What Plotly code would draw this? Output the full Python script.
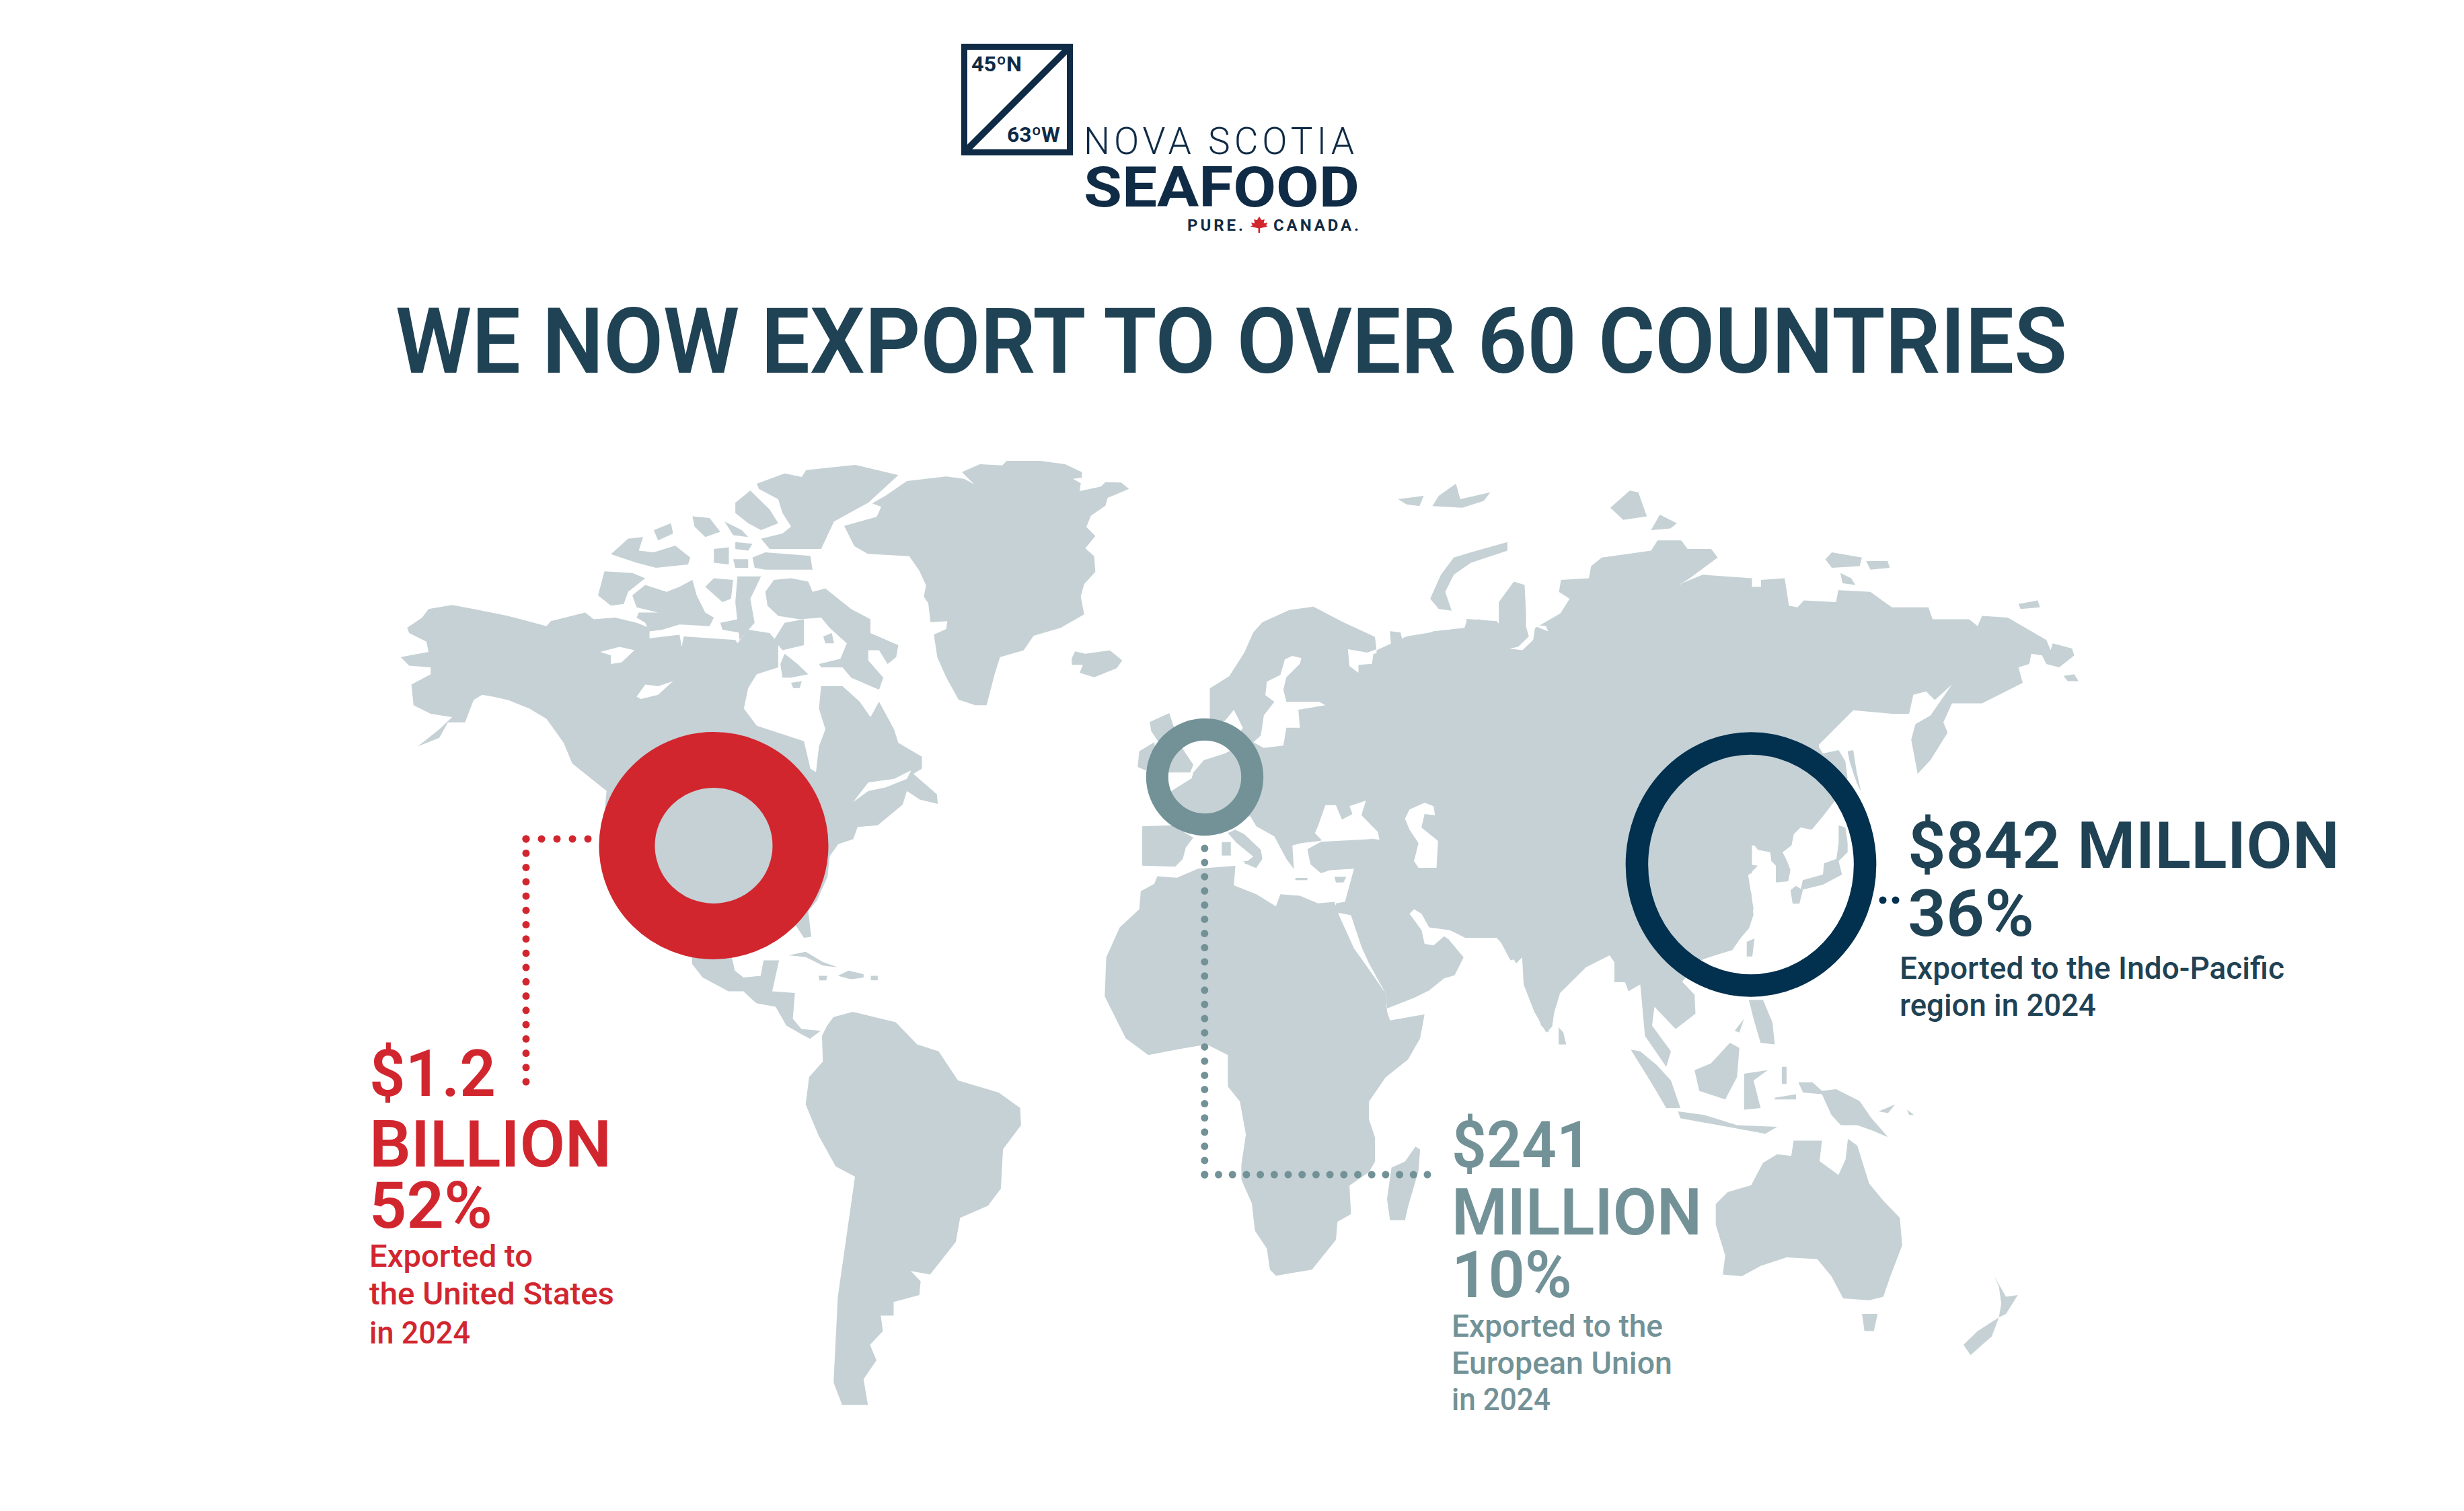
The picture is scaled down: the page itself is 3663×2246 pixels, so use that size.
import json
import plotly.graph_objects as go

W, H = 3663, 2246

LAND = "#C5D1D5"
RED = "#D2262F"
TEAL = "#729297"
NAVY = "#02304F"
INK = "#1F4254"
LOGO = "#0F2B46"

# outlines were read off zoomed crops of the picture, so each one keeps the
# crop it was read from: (left, top, x stretch, y stretch)
C_NA = (500, 640, 1.568, 1.96)
C_SA = (1000, 1300, 1.568, 1.96)
C_RU = (1600, 640, 1.568, 1.96)
C_FE = (2500, 640, 1.568, 1.96)
C_AS = (2000, 1300, 1.4255, 1.96)
C_GL = (1200, 660, 3, 3)
C_AF = (1620, 1240, 2.24, 2.24)
C_EU = (1640, 900, 2.24, 3)
C_CN = (2400, 1060, 3, 3)
C_LG = (1400, 40, 2.24, 3)

north_america = [(165,575),(200,545),(215,520),(270,508),(320,520),(400,540),(490,570),(500,555),(580,530),(600,550),(650,545),(700,560),(730,575),(730,605),(800,595),(805,630),(810,600),(870,605),(930,610),(935,620),(960,580),(1010,590),(1030,620),(1030,690),(980,710),(960,750),(950,810),(980,860),(1090,905),(1105,985),(1118,995),(1125,920),(1140,870),(1125,810),(1130,745),(1180,745),(1220,790),(1245,835),(1265,790),(1300,870),(1310,910),(1365,950),(1365,985),(1345,1000),(1400,1060),(1402,1088),(1360,1075),(1330,1050),(1320,1090),(1262,1150),(1215,1155),(1205,1190),(1170,1205),(1150,1240),(1145,1300),(1120,1370),(1100,1400),(1107,1475),(1090,1478),(1070,1440),(1000,1400),(700,1400),(630,1300),(625,1110),(630,1050),(585,1005),(550,970),(530,910),(490,840),(450,810),(400,785),(365,775),(340,770),(320,785),(300,850),(260,850),(240,895),(190,920),(240,870),(270,835),(220,825),(180,800),(175,740),(220,710),(220,690),(170,685),(150,660),(215,645),(210,615),(170,590)]
baffin = [(1000,470),(1020,435),(1060,430),(1100,440),(1110,470),(1140,460),(1170,490),(1200,520),(1245,550),(1245,590),(1310,625),(1305,660),(1285,680),(1265,640),(1240,640),(1240,670),(1275,720),(1265,755),(1200,720),(1180,690),(1130,690),(1125,680),(1175,665),(1190,620),(1150,575),(1130,545),(1080,550),(1030,540),(1005,510)]
melville_pen = [(1045,650),(1075,680),(1100,710),(1060,720),(1040,720),(1035,680)]
boothia = [(1045,560),(1090,550),(1090,625),(1040,640),(1020,610)]
victoria = [(690,480),(720,450),(770,470),(800,455),(830,435),(840,480),(860,530),(880,545),(870,570),(800,565),(760,580),(730,585),(720,560),(700,545),(705,530),(750,530),(700,515)]
banks = [(610,480),(625,410),(690,415),(720,430),(680,470),(670,505),(640,510)]
prince_wales = [(860,455),(880,430),(925,435),(920,490),(900,500)]
somerset = [(935,425),(990,425),(965,490),(975,560),(940,610),(930,500)]
king_william = [(895,560),(935,550),(945,590),(900,580)]
devon = [(970,370),(1000,355),(1105,365),(1110,405),(1000,405),(975,400)]
cornwallis = [(930,325),(970,330),(960,350),(930,345)]
bathurst = [(880,345),(915,340),(915,390),(880,385)]
russell = [(925,375),(960,375),(960,400),(930,400)]
melville = [(640,360),(680,315),(715,310),(705,350),(740,355),(790,335),(825,370),(820,390),(745,400),(700,385)]
ellesmere = [(980,155),(1045,125),(1085,135),(1095,115),(1210,100),(1310,130),(1240,210),(1160,265),(1130,345),(1010,345),(990,315),(1040,300),(1060,280),(1040,240),(1030,200),(985,170)]
axel = [(930,210),(965,175),(1010,230),(1030,270),(990,290),(960,270),(930,240)]
arctic_a = [(740,290),(780,270),(785,300),(750,320)]
arctic_b = [(830,250),(870,255),(895,295),(860,310),(835,280)]
arctic_c = [(905,265),(945,290),(960,310),(925,305)]
hudson_isles = [(1135,600),(1155,590),(1160,620),(1140,620)]
coats = [(1060,735),(1085,730),(1080,750),(1065,750)]

central_america = [(45,200),(45,260),(70,300),(130,340),(165,340),(195,375),(240,385),(265,440),(300,465),(320,478),(345,455),(300,450),(280,420),(285,345),(232,340),(248,250),(212,250),(205,295),(165,300),(145,280),(130,200)]
cuba = [(270,235),(310,225),(350,255),(385,270),(350,265),(310,240)]
hispaniola = [(385,295),(410,280),(445,290),(445,300),(415,305)]
jamaica = [(340,295),(360,295),(358,308),(342,308)]
puerto_rico = [(462,295),(478,295),(478,308),(462,308)]
south_america = [(360,440),(375,415),(420,400),(520,430),(570,495),(620,515),(665,600),(760,635),(810,680),(812,730),(770,800),(765,915),(735,965),(670,1000),(660,1070),(600,1165),(555,1155),(578,1185),(575,1225),(515,1245),(515,1285),(485,1285),(490,1330),(460,1370),(475,1415),(445,1470),(455,1545),(395,1545),(375,1480),(385,1230),(425,880),(380,850),(340,760),(310,670),(318,590),(350,545),(348,470)]

greenland = [(290,265),(350,230),(445,165),(620,145),(700,155),(745,180),(690,125),(770,90),(870,95),(890,75),(1040,75),(1150,90),(1225,125),(1225,150),(1185,155),(1220,175),(1215,210),(1310,190),(1330,170),(1400,172),(1435,200),(1340,240),(1330,275),(1265,320),(1245,370),(1285,410),(1240,465),(1280,500),(1285,570),(1235,625),(1220,680),(1235,760),(1130,820),(1010,855),(965,920),(860,950),(835,1030),(800,1165),(750,1165),(675,1140),(620,1040),(580,950),(565,850),(620,825),(625,790),(550,795),(540,710),(520,680),(530,630),(500,565),(455,500),(270,490),(210,455),(165,365),(310,325),(330,280)]
iceland = [(1180,955),(1195,925),(1240,935),(1350,920),(1405,965),(1380,1000),(1280,1040),(1215,1020),(1230,985),(1180,985)]

africa = [(225,140),(290,145),(360,115),(485,105),(480,170),(555,200),(620,240),(635,200),(700,205),(760,230),(815,225),(830,270),(880,380),(930,450),(985,530),(990,590),(1000,620),(1115,600),(1100,680),(1060,750),(985,810),(930,890),(930,950),(950,1010),(950,1090),(930,1125),(865,1170),(870,1265),(825,1290),(820,1350),(740,1450),(620,1470),(600,1450),(590,1380),(550,1320),(540,1230),(505,1150),(505,1100),(520,1000),(500,890),(460,840),(460,735),(390,700),(300,715),(195,735),(120,680),(50,540),(55,410),(100,310),(165,250),(170,190),(215,165)]
madagascar = [(1005,1110),(1050,1090),(1085,1040),(1100,1050),(1095,1120),(1060,1240),(1050,1285),(1000,1285),(990,1215)]
middle_east = [(820,230),(850,225),(880,115),(800,120),(770,130),(735,100),(725,50),(770,25),(960,15),(1070,0),(1085,100),(1115,115),(1155,110),(1165,30),(1300,0),(1568,0),(1568,440),(1540,640),(1520,660),(1480,590),(1445,500),(1440,410),(1420,430),(1400,395),(1355,345),(1250,345),(1200,320),(1130,310),(1105,265),(1080,250),(1065,265),(1105,320),(1115,365),(1145,370),(1180,340),(1195,350),(1245,410),(1215,470),(1180,480),(1130,520),(1080,545),(990,580),(985,530),(930,430),(905,375),(870,270),(820,260)]

europe = [(355,520),(355,370),(420,315),(470,210),(500,120),(530,75),(620,20),(700,5),(800,75),(905,140),(910,195),(880,210),(815,195),(820,270),(850,300),(850,265),(895,260),(900,215),(960,205),(955,115),(990,120),(1000,175),(1100,115),(1210,100),(1210,60),(1310,70),(1340,115),(1400,130),(1568,0),(1568,1100),(920,1100),(915,1045),(810,1020),(720,1050),(660,1060),(630,1070),(635,1175),(610,1130),(570,1030),(510,985),(490,940),(400,960),(300,970),(200,900),(200,860),(230,825),(295,770),(300,745),(335,690),(405,660),(420,650),(450,580),(465,545),(435,465),(405,515)]
uk = [(155,520),(220,480),(230,520),(250,600),(265,640),(300,710),(290,745),(215,745),(190,620),(160,560)]
ireland = [(120,650),(170,610),(180,700),(140,735),(115,720)]
spain = [(130,985),(230,980),(300,1035),(275,1080),(265,1130),(240,1165),(130,1160)]
italy = [(415,1015),(440,1000),(470,1020),(525,1090),(530,1130),(510,1170),(470,1150),(500,1120),(445,1060)]
sardinia = [(395,1055),(425,1055),(425,1115),(395,1115)]
sicily = [(465,1140),(510,1140),(505,1170)]
crete = [(640,1215),(680,1215),(680,1225),(640,1225)]
cyprus = [(770,1210),(810,1210),(800,1235),(775,1235)]

russia_west = [(700,640),(770,600),(840,585),(905,575),(910,555),(940,550),(985,590),(985,500),(1020,440),(1045,450),(1050,570),(1100,590),(1150,490),(1125,470),(1130,435),(1195,430),(1200,395),(1225,370),(1340,350),(1355,320),(1410,320),(1425,345),(1480,345),(1495,370),(1430,430),(1405,450),(1460,420),(1575,430),(1575,1290),(700,1290)]
novaya_zemlya = [(825,490),(850,420),(880,370),(920,355),(1005,325),(1005,350),(920,385),(880,420),(860,470),(875,525),(845,520)]
svalbard_a = [(750,200),(810,190),(800,220),(770,215)]
svalbard_b = [(845,190),(885,155),(895,200),(965,180),(950,205),(900,225),(830,220)]
severnaya_a = [(1245,225),(1290,175),(1310,180),(1330,250),(1275,260)]
severnaya_b = [(1340,290),(1360,245),(1400,270),(1385,285)]

russia_east = [(0,445),(40,425),(135,435),(135,455),(185,455),(185,435),(240,430),(250,510),(270,515),(285,495),(360,500),(365,465),(440,470),(490,515),(575,515),(585,550),(670,550),(690,570),(700,540),(760,545),(850,610),(860,640),(865,620),(910,635),(915,655),(880,690),(850,680),(840,655),(815,650),(810,680),(785,690),(795,735),(700,795),(630,795),(610,850),(620,880),(580,960),(550,1000),(535,900),(545,855),(580,830),(630,740),(590,785),(570,760),(540,770),(530,825),(490,825),(400,815),(320,915),(320,1100),(0,1100)]
siberia_a = [(335,375),(350,355),(420,370),(415,395),(350,400)]
siberia_b = [(430,380),(480,380),(485,400),(440,405)]
siberia_c = [(370,415),(395,430),(405,450),(375,445)]
wrangel = [(785,505),(830,495),(835,515),(790,520)]
kuril = [(890,715),(915,710),(925,730),(900,730)]

china = [(1050,0),(905,140),(930,180),(1000,165),(1030,215),(1040,290),(980,395),(930,460),(880,520),(830,510),(800,540),(790,590),(750,620),(770,660),(785,700),(775,750),(720,755),(720,680),(700,660),(695,620),(640,610),(625,590),(600,590),(545,630),(560,670),(640,680),(580,740),(610,800),(620,900),(600,960),(540,1030),(470,1070),(390,1100),(300,1200),(0,1200),(0,0)]
tatar_strip = [(1040,170),(1065,165),(1080,260),(1100,350),(1080,310),(1050,220)]
honshu = [(1000,500),(1030,510),(1040,580),(1040,620),(1000,660),(1015,720),(930,765),(830,790),(840,745),(930,720),(935,670),(990,650),(1000,580)]
kyushu = [(785,790),(810,770),(840,790),(825,850),(795,850)]
taiwan = [(590,1020),(625,1005),(615,1085),(590,1085)]

south_asia = [(325,185),(350,250),(380,240),(385,330),(415,440),(430,460),(455,345),(510,270),(560,235),(585,285),(600,340),(625,320),(635,470),(680,560),(690,515),(650,440),(655,385),(700,450),(742,405),(740,350),(695,285),(760,245),(820,220),(855,150),(865,100),(850,-30),(250,-30)]
sri_lanka = [(452,445),(462,460),(468,495),(452,495)]
sumatra = [(605,510),(625,515),(660,555),(690,600),(710,680),(680,680),(650,610)]
java = [(705,690),(760,700),(830,730),(915,735),(890,755),(850,745),(770,725),(710,710)]
borneo = [(740,570),(775,550),(815,490),(835,505),(830,590),(805,655),(750,630)]
sulawesi = [(845,580),(895,570),(865,600),(880,680),(845,685)]
philippines = [(855,365),(885,365),(905,430),(910,495),(880,490),(865,420)]
palawan = [(825,455),(845,420),(835,460)]
new_guinea = [(960,605),(990,605),(1010,630),(1040,625),(1090,660),(1115,710),(1150,765),(1115,745),(1085,730),(1050,730),(1030,700),(1010,640),(970,635)]
new_britain = [(1130,690),(1165,670),(1150,695)]
solomon = [(1190,685),(1205,700),(1195,700)]
halmahera = [(925,560),(935,560),(935,610),(925,610)]
seram = [(910,650),(955,640),(955,655),(910,655)]
australia = [(785,960),(810,925),(860,905),(885,840),(915,815),(945,820),(950,775),(1010,775),(1005,835),(1045,875),(1060,830),(1065,770),(1085,790),(1110,900),(1140,950),(1175,1000),(1180,1080),(1155,1170),(1140,1230),(1110,1240),(1055,1235),(1030,1170),(1000,1120),(935,1115),(880,1140),(840,1170),(800,1165),(805,1110),(785,1020)]
tasmania = [(1095,1280),(1128,1280),(1120,1330),(1100,1330)]
nz_north = [(1375,1170),(1400,1230),(1425,1225),(1400,1280),(1385,1290),(1390,1250),(1385,1200)]
nz_south = [(1385,1290),(1370,1345),(1325,1400),(1310,1370),(1340,1330)]

# water that sits on top of the land
great_bear = [(615,645),(660,630),(695,640),(665,675),(640,680),(640,655)]
great_slave = [(700,775),(720,740),(750,745),(785,730),(750,770),(710,782)]
great_lakes = [(1205,1082),(1240,1025),(1300,1015),(1340,990),(1330,1015),(1280,1040),(1240,1050)]
baltic = [(605,240),(630,225),(660,235),(655,260),(610,320),(600,375),(610,430),(720,430),(740,445),(650,465),(655,545),(610,545),(600,625),(535,635),(500,610),(525,580),(535,490),(570,430),(540,400),(545,340),(590,310)]
black_sea = [(705,1015),(715,985),(740,890),(775,890),(795,955),(830,930),(820,895),(875,870),(860,935),(915,1010),(920,1045),(810,1025),(730,1050)]
caspian = [(1005,950),(1020,910),(1070,880),(1100,895),(1105,935),(1070,930),(1060,990),(1115,1050),(1110,1170),(1050,1170),(1035,1140),(1050,1060),(1020,1000)]
ob_bay = [(1010,635),(1040,640),(1065,610),(1070,570),(1100,585),(1095,570),(1065,565),(1060,500),(1050,470),(1048,570),(1055,600),(1030,630)]

land_shapes = [
    (C_NA, [north_america, baffin, melville_pen, boothia, victoria, banks, prince_wales, somerset, king_william, devon, cornwallis, bathurst, russell, melville, ellesmere, axel, arctic_a, arctic_b, arctic_c, hudson_isles, coats]),
    (C_SA, [central_america, cuba, hispaniola, jamaica, puerto_rico, south_america]),
    (C_GL, [greenland, iceland]),
    (C_AF, [africa, madagascar, middle_east]),
    (C_EU, [europe, uk, ireland, spain, italy, sardinia, sicily, crete, cyprus]),
    (C_RU, [russia_west, novaya_zemlya, svalbard_a, svalbard_b, severnaya_a, severnaya_b]),
    (C_FE, [russia_east, siberia_a, siberia_b, siberia_c, wrangel, kuril]),
    (C_CN, [china, tatar_strip, honshu, kyushu, taiwan]),
    (C_AS, [south_asia, sri_lanka, sumatra, java, borneo, sulawesi, philippines, palawan, new_guinea, new_britain, solomon, halmahera, seram, australia, tasmania, nz_north, nz_south]),
]
water_shapes = [
    (C_NA, [great_bear, great_slave, great_lakes]),
    (C_EU, [baltic, black_sea, caspian]),
    (C_RU, [ob_bay]),
]

maple_leaf = [(1057,845),(1065,862),(1075,858),(1072,875),(1085,872),(1080,885),(1085,890),(1060,898),(1060,918),(1054,918),(1054,898),(1028,890),(1035,885),(1030,872),(1042,875),(1040,858),(1050,862)]

label_fit = []


def from_crop(crop, points):
    x0, y0, fx, fy = crop
    xs = [x0 + p[0] / fx for p in points]
    ys = [y0 + p[1] / fy for p in points]
    return xs + xs[:1], ys + ys[:1]


def add_polys(fig, groups, colour):
    for crop, polys in groups:
        for poly in polys:
            xs, ys = from_crop(crop, poly)
            fig.add_trace(go.Scatter(x=xs, y=ys, mode="lines", fill="toself", fillcolor=colour,
                                     line=dict(width=0), hoverinfo="skip"))


def add_dots(fig, corners, counts, colour):
    xs, ys = [], []
    for (a, b), n in zip(zip(corners, corners[1:]), counts):
        for i in range(n + 1):
            xs.append(a[0] + (b[0] - a[0]) * i / n)
            ys.append(a[1] + (b[1] - a[1]) * i / n)
    fig.add_trace(go.Scatter(x=xs, y=ys, mode="markers", hoverinfo="skip",
                             marker=dict(color=colour, size=11, line=dict(width=0))))


def add_label(fig, text, x, baseline, size, colour, width, weight=600, fit="spacingAndGlyphs"):
    fig.add_annotation(x=x - 3, y=baseline - 0.36 * size, text=text, showarrow=False, xanchor="left", yanchor="middle",
                       borderpad=0, xref="x", yref="y",
                       font=dict(family="Roboto", size=size, color=colour, weight=weight))
    label_fit.append([width, fit])


def add_ring(fig, cx, cy, rx, ry, stroke, colour):
    fig.add_shape(type="circle", x0=cx - rx, x1=cx + rx, y0=cy - ry, y1=cy + ry,
                  line=dict(color=colour, width=stroke), fillcolor="rgba(0,0,0,0)")


fig = go.Figure()
add_polys(fig, land_shapes, LAND)
add_polys(fig, water_shapes, "white")

add_dots(fig, [(874, 1247), (782, 1247), (782, 1608)], [4, 17], RED)
add_dots(fig, [(1790.8, 1261), (1790.8, 1746), (2122, 1746)], [23, 16], TEAL)
add_dots(fig, [(2799, 1338), (2818, 1338)], [1], NAVY)

add_ring(fig, 1061, 1257, 129, 127.4, 83, RED)
add_ring(fig, 1791, 1155, 70.7, 70.7, 33, TEAL)
add_ring(fig, 2603, 1285, 169.6, 180, 33.5, NAVY)

# logo
fig.add_shape(type="rect", x0=1433.5, x1=1590.5, y0=69.5, y1=226.5, line=dict(color=LOGO, width=9))
fig.add_shape(type="line", x0=1590, y0=70, x1=1434, y1=226, line=dict(color=LOGO, width=10))
xs, ys = from_crop(C_LG, maple_leaf)
fig.add_trace(go.Scatter(x=xs, y=ys, mode="lines", fill="toself", fillcolor=RED, line=dict(width=0), hoverinfo="skip"))
add_label(fig, "45ºN", 1446, 107, 31, LOGO, 75, 700)
add_label(fig, "63ºW", 1499, 212, 31, LOGO, 79, 700)
add_label(fig, "NOVA SCOTIA", 1613, 230, 55, LOGO, 402, 300, "spacing")
add_label(fig, "SEAFOOD", 1613, 309, 84, LOGO, 410, 700)
add_label(fig, "PURE.", 1767, 344, 24, LOGO, 83, 700, "spacing")
add_label(fig, "CANADA.", 1895, 344, 24, LOGO, 127, 700, "spacing")

add_label(fig, "WE NOW EXPORT TO OVER 60 COUNTRIES", 590, 556, 136, INK, 2485)

add_label(fig, "$1.2", 551, 1631, 97, RED, 188)
add_label(fig, "BILLION", 551, 1736, 97, RED, 360)
add_label(fig, "52%", 551, 1827, 97, RED, 183)
add_label(fig, "Exported to", 551, 1884, 46, RED, 243, 500)
add_label(fig, "the United States", 551, 1940, 46, RED, 364, 500)
add_label(fig, "in 2024", 551, 1998, 46, RED, 150, 500)

add_label(fig, "$241", 2160, 1737, 97, TEAL, 208)
add_label(fig, "MILLION", 2160, 1837, 97, TEAL, 372)
add_label(fig, "10%", 2160, 1930, 97, TEAL, 179)
add_label(fig, "Exported to the", 2160, 1988, 46, TEAL, 314, 500)
add_label(fig, "European Union", 2160, 2043, 46, TEAL, 328, 500)
add_label(fig, "in 2024", 2160, 2097, 46, TEAL, 147, 500)

add_label(fig, "$842 MILLION", 2838, 1292, 97, INK, 642)
add_label(fig, "36%", 2838, 1393, 97, INK, 188)
add_label(fig, "Exported to the Indo-Pacific", 2826, 1456, 46, INK, 572, 500)
add_label(fig, "region in 2024", 2826, 1511, 46, INK, 292, 500)

fig.update_layout(width=W, height=H, margin=dict(l=0, r=0, t=0, b=0), showlegend=False,
                  paper_bgcolor="white", plot_bgcolor="white", hovermode=False)
fig.update_xaxes(range=[0, W], visible=False, fixedrange=True)
fig.update_yaxes(range=[H, 0], visible=False, fixedrange=True)

# plotly has no letter spacing, so the label widths are set on the svg text afterwards
post = """
document.body.style.margin = '0';
var fit = %s;
document.querySelectorAll('.annotation-text').forEach(function (t, i) {
    var w = t.getComputedTextLength();
    t.setAttribute('x', parseFloat(t.getAttribute('x') || 0) + (fit[i][0] - w) / 2);
    t.setAttribute('textLength', fit[i][0]);
    t.setAttribute('lengthAdjust', fit[i][1]);
});
""" % json.dumps(label_fit)

fig.write_html("out.html", post_script=post, config={"displayModeBar": False})
